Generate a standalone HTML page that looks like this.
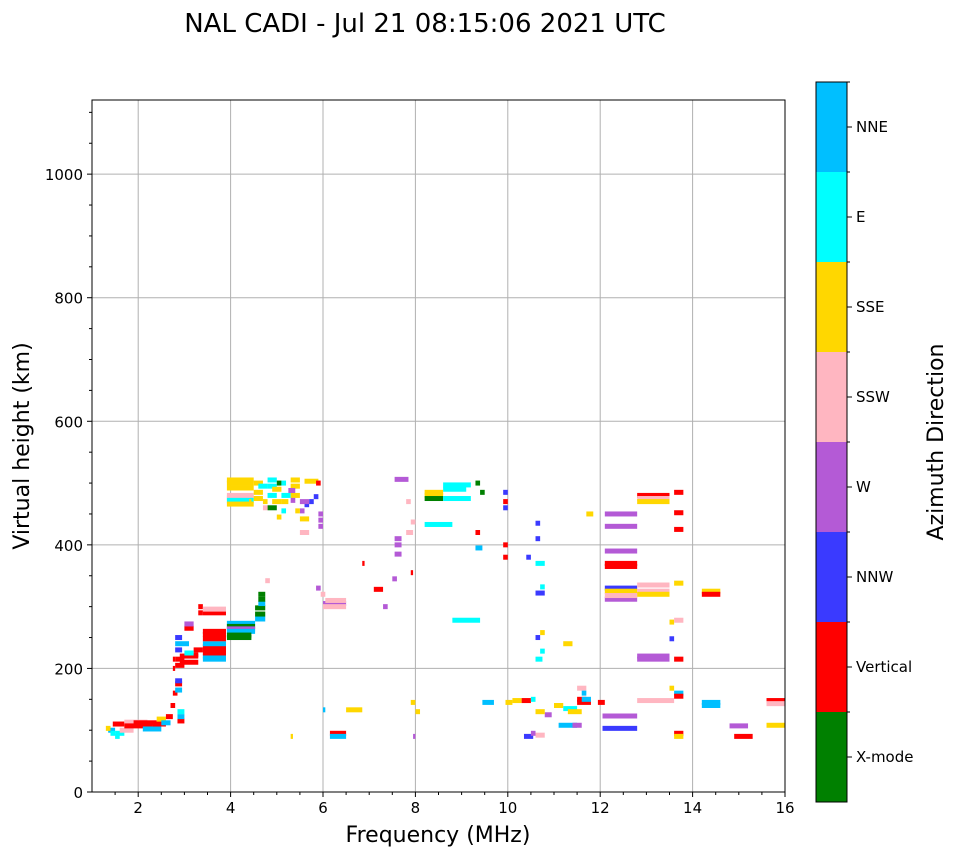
<!DOCTYPE html>
<html><head><meta charset="utf-8"><style>
body{margin:0;background:#fff;font-family:"DejaVu Sans","Liberation Sans",sans-serif;}
svg text{font-family:"DejaVu Sans","Liberation Sans",sans-serif;}
</style></head><body>
<svg id="chart" width="958" height="857" xmlns="http://www.w3.org/2000/svg">
<text x="425" y="32" font-size="26" text-anchor="middle">NAL CADI - Jul 21 08:15:06 2021 UTC</text>
<g id="grid"></g><g id="marks"></g><g id="axes"></g><g id="cbar"></g>
</svg>
<script>
const colorNames = ["X-mode","Vertical","NNW","W","SSW","SSE","E","NNE"];
const colors = ["#008000","#ff0000","#3a3aff","#b45ad6","#ffb6c1","#ffd700","#00ffff","#00bfff"];
const xTicks = [2,4,6,8,10,12,14,16];
const yTicks = [0,200,400,600,800,1000];
// echoes: [freqStart MHz, freqEnd MHz, virtual height km, direction index]
const echoes = [
[1.35,1.5,100,7],[1.4,1.5,95,6],[1.45,1.7,110,1],[1.5,1.7,95,6],[1.6,1.9,100,4],[1.7,2.2,113,4],[1.7,2.3,107,1],[1.9,2.4,112,1],[2.1,2.5,102,7],[2.3,2.6,110,1],[2.4,2.6,118,5],[2.5,2.7,112,7],[2.6,2.75,122,1],[2.85,3.0,115,1],[2.85,3.0,122,7],[2.85,3.0,130,6],[1.3,1.4,103,5],[1.5,1.6,90,6],
[2.7,2.8,140,1],[2.75,2.85,160,1],[2.8,2.95,165,7],[2.8,2.95,175,1],[2.8,2.95,180,2],[2.75,2.8,200,1],[2.75,2.8,215,1],[2.8,3.0,205,1],[2.8,3.0,215,1],[2.8,2.95,230,2],[2.8,2.95,250,2],[2.8,3.1,240,7],[2.9,3.3,210,1],[2.9,3.3,220,1],[3.0,3.2,265,1],[3.0,3.2,272,3],[3.3,3.4,290,1],[3.3,3.4,300,1],
[3.4,3.9,215,7],[3.4,3.9,220,7],[3.4,3.9,225,1],[3.4,3.9,230,1],[3.4,3.9,235,1],[3.4,3.9,240,7],[3.4,3.9,248,1],[3.4,3.9,255,1],[3.4,3.9,260,1],[3.2,3.4,230,1],[3.2,3.3,222,1],[3.4,3.9,290,1],[3.4,3.9,296,4],[3.0,3.2,225,6],
[3.92,4.53,273,7],[3.92,4.53,268,0],[3.92,4.53,264,3],[3.92,4.53,260,7],[3.92,4.45,254,0],[3.92,4.45,250,0],[4.53,4.75,280,7],[4.53,4.75,288,0],[4.53,4.75,298,0],[4.6,4.75,305,7],[4.6,4.75,312,0],[4.6,4.75,320,0],
[3.92,4.5,505,5],[3.92,4.5,500,5],[3.92,4.5,492,5],[3.92,4.5,480,4],[3.92,4.5,476,4],[3.92,4.5,472,6],[3.92,4.5,466,5],[4.5,4.7,500,5],[4.5,4.7,485,5],[4.6,4.8,495,6],[4.7,4.8,470,5],[4.5,4.7,475,5],[4.8,5.0,505,6],[4.8,5.0,495,6],[4.8,5.0,480,6],[4.9,5.1,470,5],[4.9,5.1,490,5],[5.0,5.1,500,0],[5.1,5.2,500,6],[5.1,5.3,480,6],[5.1,5.25,470,5],[5.3,5.5,505,5],[5.3,5.5,495,5],[5.3,5.5,480,5],[5.25,5.4,488,3],[5.6,5.9,503,5],[5.6,5.7,465,2],[5.7,5.8,470,2],[5.5,5.7,470,3],[5.5,5.6,455,3],[5.5,5.7,442,5],[5.5,5.7,420,4],[5.8,5.9,478,2],[4.8,5.0,460,0],[4.7,4.8,460,4],[5.0,5.1,445,5],[5.4,5.5,455,5],[4.4,4.45,470,5],[5.3,5.4,472,3],[5.1,5.2,455,6],[5.9,6.0,440,3],[5.9,6.0,430,3],[5.9,6.0,450,3],[5.85,5.95,500,1],[4.75,4.85,342,4],
[6.0,6.5,305,3],[6.0,6.5,300,4],[6.05,6.5,310,4],[5.85,5.95,330,3],[5.95,6.05,320,4],[6.15,6.5,95,1],[6.15,6.5,90,7],[6.5,6.85,133,5],[5.3,5.35,90,5],[6.0,6.05,133,7],
[6.85,6.9,370,1],[7.1,7.3,328,1],[7.3,7.4,300,3],[7.5,7.6,345,3],[7.55,7.7,385,3],[7.55,7.7,400,3],[7.55,7.7,410,3],[7.55,7.85,506,3],[7.8,7.9,470,4],[7.8,7.95,420,4],[7.9,8.0,437,4],[7.9,7.95,355,1],[7.9,8.0,145,5],[8.0,8.1,130,5],[7.95,8.0,90,3],
[8.2,8.6,485,5],[8.2,8.6,480,5],[8.2,8.6,475,0],[8.2,8.8,433,6],[8.6,9.2,497,6],[8.6,9.1,490,6],[8.6,9.2,475,6],[8.8,9.4,278,6],[9.3,9.4,500,0],[9.4,9.5,485,0],[9.3,9.4,420,1],[9.3,9.45,395,7],[9.45,9.7,145,7],[9.9,10.0,485,2],[9.9,10.0,470,1],[9.9,10.0,460,2],[9.9,10.0,400,1],[9.9,10.0,380,1],[9.95,10.1,145,5],[10.1,10.3,148,5],[10.3,10.5,148,1],[10.35,10.55,90,2],[10.4,10.5,380,2],[10.6,10.7,435,2],[10.6,10.7,410,2],[10.6,10.8,370,6],[10.7,10.8,332,6],[10.6,10.8,322,2],[10.6,10.7,250,2],[10.6,10.75,215,6],[10.7,10.8,228,6],[10.7,10.8,258,5],[10.5,10.6,150,6],[10.5,10.6,95,3],[10.6,10.8,92,4],[10.8,10.95,125,3],[10.6,10.8,130,5],[11.0,11.2,140,5],[11.2,11.5,135,6],[11.3,11.6,130,5],[11.5,11.8,145,1],[11.5,11.7,150,1],[11.5,11.7,168,4],[11.6,11.8,150,7],[11.6,11.7,160,7],[11.7,11.85,450,5],[11.2,11.4,240,5],[11.1,11.5,108,7],[11.4,11.6,108,3],
[11.95,12.1,145,1],[12.05,12.8,123,3],[12.05,12.8,103,2],[12.1,12.8,450,3],[12.1,12.8,430,3],[12.1,12.8,390,3],[12.1,12.8,370,1],[12.1,12.8,365,1],[12.1,12.8,330,2],[12.1,12.8,325,5],[12.1,12.8,312,3],[12.1,12.8,318,4],[12.8,13.5,480,1],[12.8,13.5,475,4],[12.8,13.5,470,5],[12.8,13.5,335,4],[12.8,13.5,325,4],[12.8,13.5,320,5],[12.8,13.5,220,3],[12.8,13.5,215,3],[12.8,13.6,148,4],[13.6,13.8,485,1],[13.6,13.8,452,1],[13.6,13.8,425,1],[13.6,13.8,338,5],[13.5,13.6,275,5],[13.6,13.8,278,4],[13.5,13.6,248,2],[13.6,13.8,215,1],[13.6,13.8,160,7],[13.6,13.8,155,1],[13.6,13.8,95,1],[13.6,13.8,90,5],[13.5,13.6,168,5],[14.2,14.6,325,5],[14.2,14.6,320,1],[14.2,14.6,145,7],[14.2,14.6,140,7],[14.8,15.2,107,3],[14.9,15.3,90,1],[15.6,16,148,1],[15.6,16,143,4],[15.6,16,108,5]
];
const NS="http://www.w3.org/2000/svg";
const L=92,R=785,T=100,B=792,xmin=1,xmax=16,ymin=0,ymax=1120;
const xs=f=>L+(f-xmin)/(xmax-xmin)*(R-L);
const ys=h=>B-(h-ymin)/(ymax-ymin)*(B-T);
function mk(tag,attrs,parent){const e=document.createElementNS(NS,tag);for(const k in attrs)e.setAttribute(k,attrs[k]);parent.appendChild(e);return e;}
const grid=document.getElementById('grid'),marks=document.getElementById('marks'),axes=document.getElementById('axes'),cbar=document.getElementById('cbar');
xTicks.forEach(t=>{const x=xs(t);
 const g=mk('line',{x1:x,x2:x,y1:T,y2:B,stroke:'#b0b0b0','stroke-width':1},grid);
 
 
 mk('line',{x1:x,x2:x,y1:B,y2:B+5,stroke:'#000'},axes);
 const tx=mk('text',{x:x,y:B+21,'font-size':15,'text-anchor':'middle'},axes);tx.textContent=t;
 
 
});
for(let f=1.5;f<16;f+=0.5){if(f%2!==0)mk('line',{x1:xs(f),x2:xs(f),y1:B,y2:B+3,stroke:'#000'},axes);}
yTicks.forEach(t=>{const y=ys(t);
 const g=mk('line',{x1:L,x2:R,y1:y,y2:y,stroke:'#b0b0b0','stroke-width':1},grid);
 
 
 mk('line',{x1:L-5,x2:L,y1:y,y2:y,stroke:'#000'},axes);
 const tx=mk('text',{x:L-9,y:y+6,'font-size':15,'text-anchor':'end'},axes);tx.textContent=t;
 
 
});
for(let h=50;h<ymax;h+=50){if(h%200!==0)mk('line',{x1:L-3,x2:L,y1:ys(h),y2:ys(h),stroke:'#000'},axes);}
echoes.forEach(e=>{
 const r=mk('rect',{x:xs(e[0]),y:ys(e[2])-2.5,width:Math.max(2,xs(e[1])-xs(e[0])),height:5,fill:colors[e[3]]},marks);
 
 
});
const fr=mk('rect',{x:L,y:T,width:R-L,height:B-T,fill:'none',stroke:'#000','stroke-width':1},axes);


const xl=mk('text',{x:438,y:842,'font-size':22,'text-anchor':'middle'},axes);xl.textContent='Frequency (MHz)';


const yl=mk('text',{x:29,y:446,'font-size':22,'text-anchor':'middle',transform:'rotate(-90 29 446)'},axes);yl.textContent='Virtual height (km)';


const CT=82,CB=802,CL=816,CW=31,bh=(CB-CT)/colors.length;
colors.forEach((c,i)=>{const y=CB-(i+1)*bh;
 const r=mk('rect',{x:CL,y:y,width:CW,height:bh,fill:c},cbar);
 
 
 mk('line',{x1:CL+CW,x2:CL+CW+5,y1:y+bh/2,y2:y+bh/2,stroke:'#000'},cbar);
 mk('line',{x1:CL+CW,x2:CL+CW+3,y1:y,y2:y,stroke:'#000'},cbar);
 const t=mk('text',{x:CL+CW+9,y:y+bh/2+5,'font-size':15},cbar);t.textContent=colorNames[i];
 
 
});
mk('rect',{x:CL,y:CT,width:CW,height:CB-CT,fill:'none',stroke:'#000'},cbar);
const ct=mk('text',{x:943,y:442,'font-size':22,'text-anchor':'middle',transform:'rotate(-90 943 442)'},cbar);ct.textContent='Azimuth Direction';


</script>
</body></html>
